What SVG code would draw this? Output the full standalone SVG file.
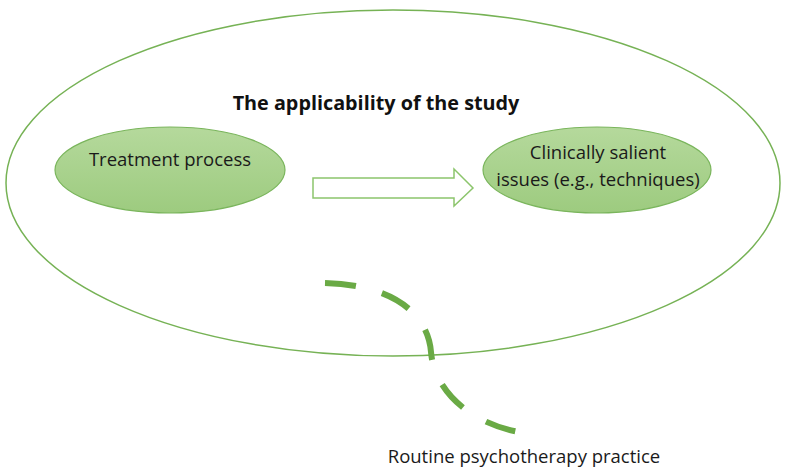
<svg xmlns="http://www.w3.org/2000/svg" width="787" height="468" viewBox="0 0 787 468">
<style>
.lbl{font-family:"Open Sans","Liberation Sans",sans-serif;font-size:18.5px;fill:#1a1a1a;text-anchor:middle}
.node{fill:url(#g);stroke:#7ab55c;stroke-width:1.2}
</style>
<defs>
<linearGradient id="g" x1="0" y1="0" x2="0" y2="1">
<stop offset="0" stop-color="#b5d99c"/>
<stop offset="1" stop-color="#9dcb7f"/>
</linearGradient>
</defs>
<rect width="787" height="468" fill="#fff"/>
<g id="scope">
<ellipse cx="393" cy="183" rx="387" ry="173" fill="none" stroke="#76b255" stroke-width="1.5"/>
<text x="376" y="110" style="font-family:'Open Sans','Liberation Sans',sans-serif;font-size:19.8px;font-weight:bold;fill:#111;text-anchor:middle">The applicability of the study</text>
</g>
<g id="treatment">
<ellipse class="node" cx="170" cy="170" rx="115" ry="43"/>
<text class="lbl" x="170" y="166">Treatment process</text>
</g>
<g id="clinical">
<ellipse class="node" cx="597" cy="170" rx="114" ry="43"/>
<text class="lbl" x="598" y="159">Clinically salient</text>
<text class="lbl" x="598" y="186">issues (e.g., techniques)</text>
</g>
<g id="connectors">
<path d="M313,178 H454 V169 L473,188 L454,206 V198 H313 Z" fill="#fff" stroke="#8cc56c" stroke-width="1.5"/>
<path d="M325,283 C395,285 428,315 431,352 C434,390 470,425 525,433" fill="none" stroke="#6aaa45" stroke-width="6" stroke-dasharray="31,27"/>
</g>
<g id="routine">
<text class="lbl" x="524" y="463">Routine psychotherapy practice</text>
</g>
</svg>
